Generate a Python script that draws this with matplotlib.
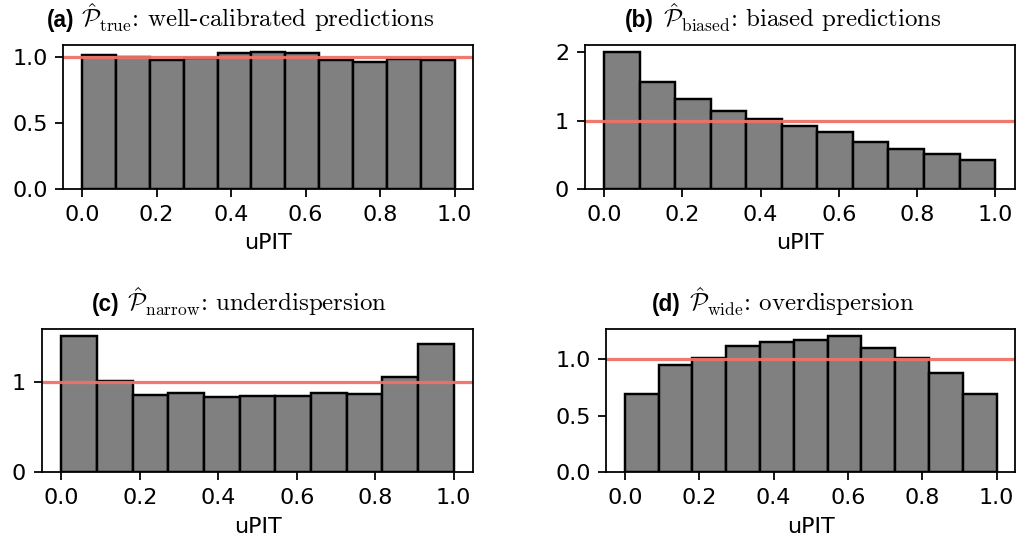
import numpy as np
import matplotlib
matplotlib.use("Agg")
import matplotlib.pyplot as plt

plt.rcParams['font.size'] = 10
plt.rcParams['mathtext.fontset'] = 'custom'
plt.rcParams['mathtext.rm'] = 'cmr10'
plt.rcParams['mathtext.cal'] = 'cmsy10'
plt.rcParams['mathtext.it'] = 'cmmi10'

# 11 uPIT bins over [0, 1], density per bin
bin_edges = np.linspace(0, 1, 12)

dens_true = [1.018, 1.0, 0.98, 0.995, 1.03, 1.037, 1.03, 0.98, 0.965, 0.982, 0.975]
dens_biased = [1.998, 1.564, 1.319, 1.142, 1.029, 0.917, 0.828, 0.686, 0.588, 0.505, 0.417]
dens_narrow = [1.515, 1.011, 0.86, 0.878, 0.83, 0.841, 0.843, 0.878, 0.867, 1.055, 1.421]
dens_wide = [0.696, 0.947, 1.012, 1.115, 1.15, 1.171, 1.211, 1.097, 1.012, 0.882, 0.696]

panel_tags = ["(a)", "(b)", "(c)", "(d)"]
titles = [
    r"$\hat{\mathcal{P}}_{\mathrm{true}}$: well-calibrated predictions",
    r"$\hat{\mathcal{P}}_{\mathrm{biased}}$: biased predictions",
    r"$\hat{\mathcal{P}}_{\mathrm{narrow}}$: underdispersion",
    r"$\hat{\mathcal{P}}_{\mathrm{wide}}$: overdispersion",
]
all_dens = [dens_true, dens_biased, dens_narrow, dens_wide]

W, H = 1025, 547
# axes boxes [left, bottom, width, height]
boxes = [
    [0.0618, 0.6545, 0.400, 0.2625],
    [0.5704, 0.6545, 0.4195, 0.2625],
    [0.0407, 0.1366, 0.4211, 0.2625],
    [0.5915, 0.1366, 0.399, 0.2625],
]
# title pieces in pixels: tag left, text left, baseline from top
title_pos = [(47, 81, 27), (625, 663, 27), (92, 127, 310.5), (652, 689, 310.5)]
yticks = [[0, 0.5, 1.0], [0, 1, 2], [0, 1], [0, 0.5, 1.0]]
yfmt = ["%.1f", "%d", "%d", "%.1f"]

fig = plt.figure(figsize=(W / 160, H / 160), dpi=160)
centers = (bin_edges[:-1] + bin_edges[1:]) / 2

for i in range(4):
    ax = fig.add_axes(boxes[i])
    ax.hist(centers, bins=bin_edges, weights=all_dens[i],
            color='gray', edgecolor='black', linewidth=1.1)
    ax.axhline(1, color='#f07167', linewidth=1.45, alpha=0.95)
    ax.set_yticks(yticks[i])
    ax.set_yticklabels([yfmt[i] % v for v in yticks[i]])
    ax.set_xticks([0, 0.2, 0.4, 0.6, 0.8, 1.0])
    ax.set_xlabel("uPIT")

    tx, px, by = title_pos[i]
    fig.text(tx / W, 1 - by / H, panel_tags[i], fontsize=10.2, fontweight='bold',
             fontfamily='Liberation Sans', ha='left', va='baseline')
    fig.text(px / W, 1 - by / H, titles[i], fontsize=11.2, fontfamily='cmr10',
             ha='left', va='baseline')

plt.savefig("out.png", dpi=160)
